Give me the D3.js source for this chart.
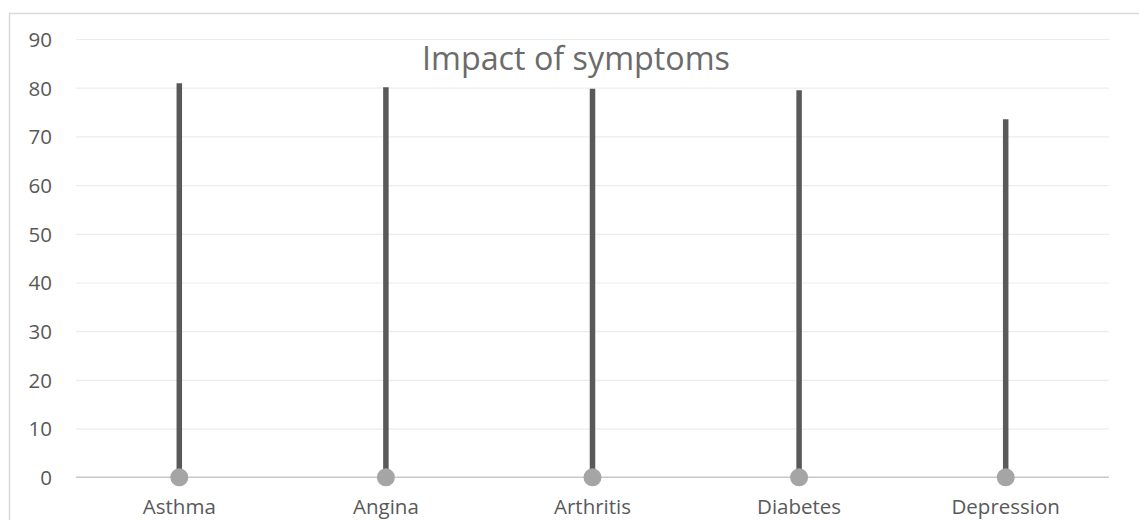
<!DOCTYPE html>
<html>
<head>
<meta charset="utf-8">
<script src="https://cdn.jsdelivr.net/npm/d3@7"></script>
<style>
  html, body { margin: 0; padding: 0; background: #fff; }
  svg { display: block; }
</style>
</head>
<body>
<svg id="chart" width="1139" height="520"></svg>
<script>
const categories = ["Asthma", "Angina", "Arthritis", "Diabetes", "Depression"];
const values = [80.9, 80.1, 79.8, 79.5, 73.5];
const baseValues = [0, 0, 0, 0, 0];
const yTicks = [0, 10, 20, 30, 40, 50, 60, 70, 80, 90];
const title = "Impact of symptoms";

const svg = d3.select("#chart");
const W = 1139, H = 520;
const font = "'Open Sans', 'DejaVu Sans', sans-serif";

// chart area border (right/bottom edges lie outside the picture)
svg.append("rect")
  .attr("x", 9.5).attr("y", 13.5)
  .attr("width", 1150).attr("height", 600)
  .attr("fill", "#fff").attr("stroke", "#d9d9d9").attr("stroke-width", 1.5);

const plot = { left: 76, right: 1109, top: 39, bottom: 477.3 };

const x = d3.scaleBand().domain(categories).range([plot.left, plot.right]).padding(0);
const y = d3.scaleLinear().domain([0, 90]).range([plot.bottom, plot.top]);

// gridlines
const grid = d3.axisLeft(y).tickValues(yTicks.filter(t => t !== 0))
  .tickSize(-(plot.right - plot.left)).tickFormat("");
const gG = svg.append("g").attr("transform", `translate(${plot.left},0)`).call(grid);
gG.select(".domain").remove();
gG.selectAll("line").attr("stroke", "#ececec").attr("stroke-width", 1.2);

// y tick labels
const yAxis = d3.axisLeft(y).tickValues(yTicks).tickSize(0).tickPadding(0);
const yG = svg.append("g").attr("transform", `translate(52,0)`).call(yAxis);
yG.select(".domain").remove();
yG.selectAll("text").attr("font-family", font).attr("font-size", 20.5)
  .attr("fill", "#595959").attr("dy", "0.36em");

// x baseline
svg.append("line")
  .attr("x1", plot.left).attr("x2", plot.right)
  .attr("y1", y(0)).attr("y2", y(0))
  .attr("stroke", "#c8c8c8").attr("stroke-width", 1.6);

// x labels
const xAxis = d3.axisBottom(x).tickSize(0).tickPadding(0);
const xG = svg.append("g").attr("transform", `translate(0,${y(0)})`).call(xAxis);
xG.select(".domain").remove();
xG.selectAll("text").attr("font-family", font).attr("font-size", 20.5)
  .attr("fill", "#595959").attr("dy", "37px");

const data = categories.map((c, i) => ({ c, v: values[i], b: baseValues[i] }));

// stems
svg.append("g").selectAll("line").data(data).join("line")
  .attr("x1", d => x(d.c) + x.bandwidth() / 2)
  .attr("x2", d => x(d.c) + x.bandwidth() / 2)
  .attr("y1", d => y(d.b))
  .attr("y2", d => y(d.v))
  .attr("stroke", "#595959").attr("stroke-width", 5.5);

// dots at base
svg.append("g").selectAll("circle").data(data).join("circle")
  .attr("cx", d => x(d.c) + x.bandwidth() / 2)
  .attr("cy", d => y(d.b))
  .attr("r", 9)
  .attr("fill", "#a5a5a5");

// title
const t = svg.append("text")
  .attr("x", 576).attr("y", 70)
  .attr("text-anchor", "middle")
  .attr("font-family", font).attr("font-size", 30)
  .attr("fill", "#6b6b6b")
  .text(title);
const len = t.node().getComputedTextLength();
t.attr("font-size", 30 * 308 / len);
</script>
</body>
</html>
